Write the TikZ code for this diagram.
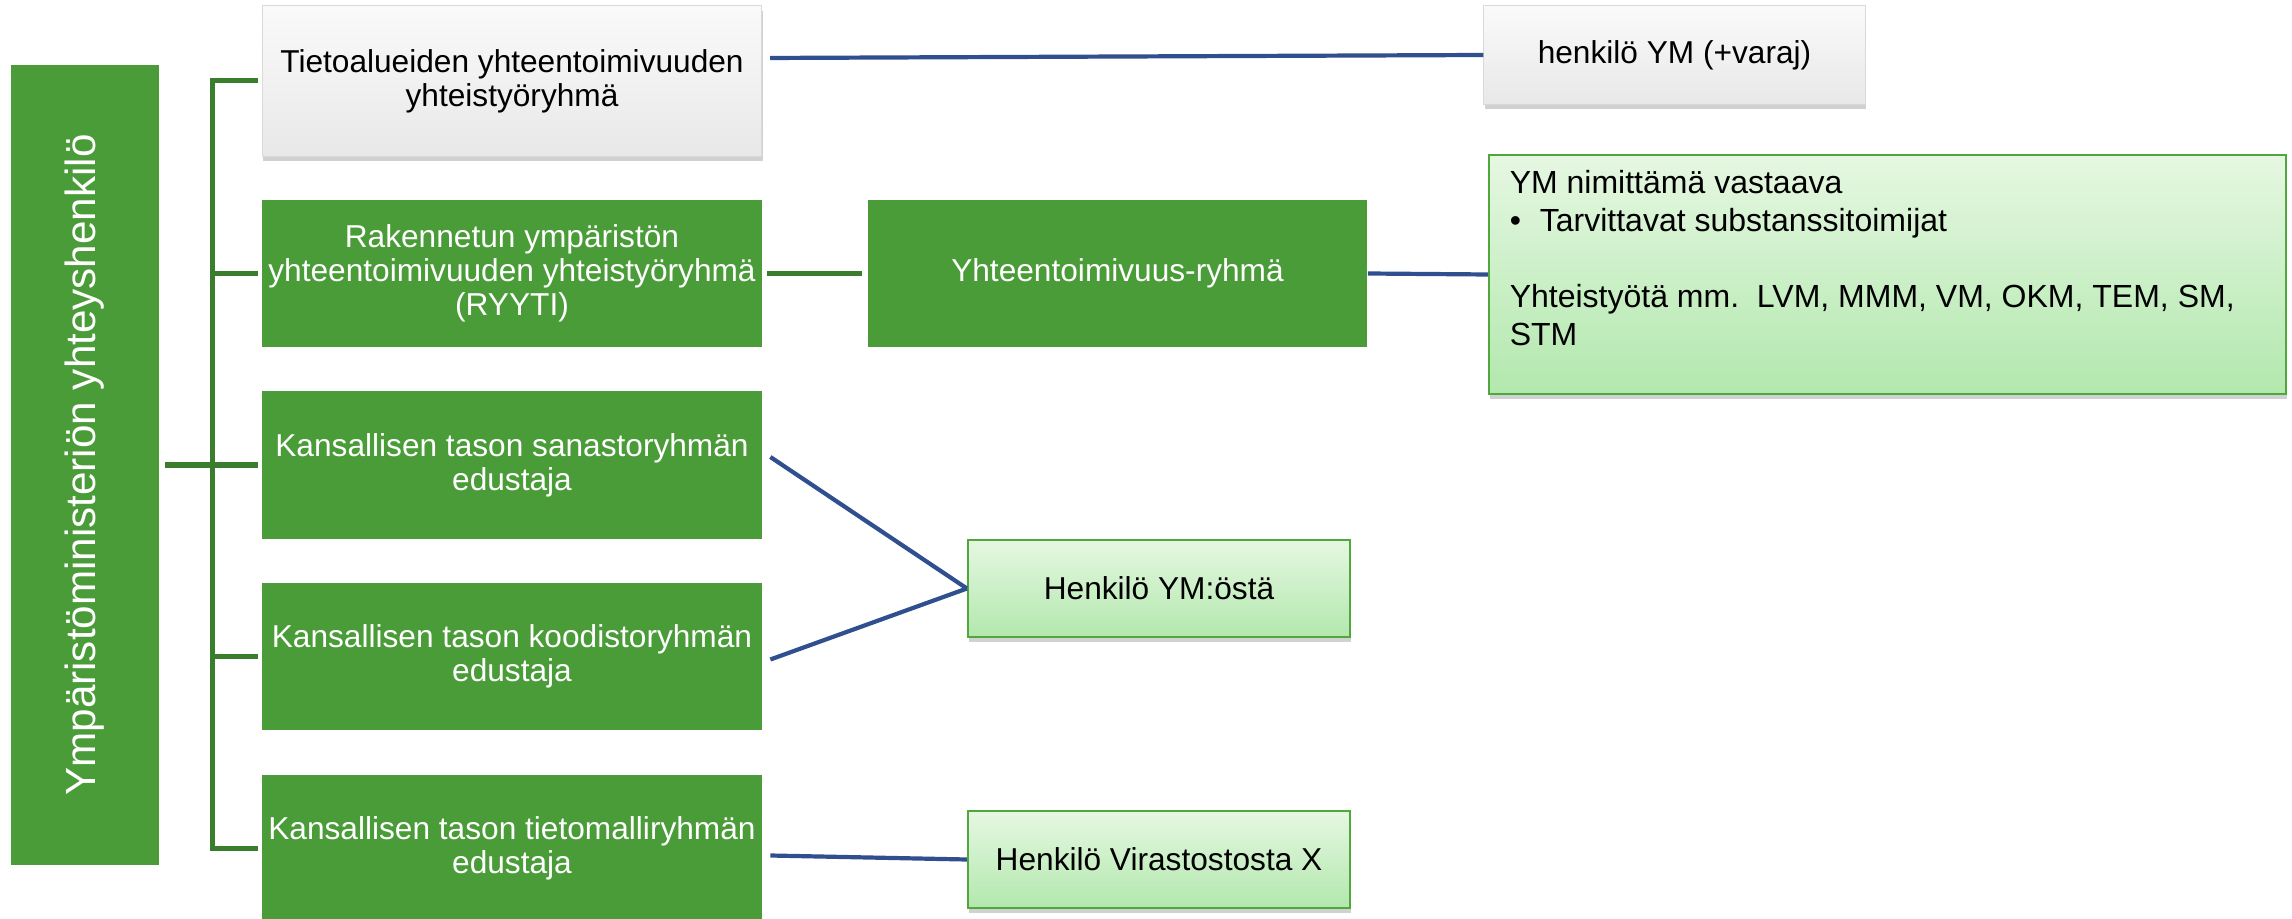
\documentclass[tikz,border=0pt]{standalone}
\usepackage{fontspec}
\setmainfont{Liberation Sans}
\usetikzlibrary{shadows}

\definecolor{boxgreen}{RGB}{74,156,56}
\definecolor{linegreen}{RGB}{58,125,44}
\definecolor{lineblue}{RGB}{47,79,143}
\definecolor{paletop}{RGB}{230,247,226}
\definecolor{palebottom}{RGB}{178,232,173}
\definecolor{paleedge}{RGB}{80,168,60}

\tikzset{
	boxfont/.style={font=\fontsize{9}{9.6}\selectfont},
	greenbox/.style={boxfont, fill=boxgreen, text=white, inner sep=0pt, align=center,
		minimum width=4.99cm, minimum height=1.47cm},
	boxshadow/.style={drop shadow={opacity=0.3, fill=black!60, shadow xshift=0.01cm, shadow yshift=-0.05cm}},
	graybox/.style={boxfont, boxshadow, top color=white!98!black, bottom color=white!91!black,
		draw=black!15, line width=0.01cm, inner sep=0pt, align=center},
	palebox/.style={boxfont, boxshadow, top color=paletop, bottom color=palebottom,
		draw=paleedge, line width=0.02cm, inner sep=0pt, align=center},
	bracket/.style={draw=linegreen, line width=0.05cm},
	blueline/.style={draw=lineblue, line width=0.042cm}
}

\begin{document}
\begin{tikzpicture}[x=0.01cm, y=-0.01cm]
	\useasboundingbox (0,0) rectangle (2292,919);
	
	%ministry contact, text reads upwards
	\node[fill=boxgreen, text=white, font=\fontsize{12}{14}\selectfont, rotate=90, inner sep=0pt,
		minimum width=8cm, minimum height=1.48cm] (ymp) at (85,465) {Ympäristöministeriön yhteyshenkilö};
	
	%left column
	\node[graybox, minimum width=4.99cm, minimum height=1.5cm] (tieto) at (512,81)
		{Tietoalueiden yhteentoimivuuden\\yhteistyöryhmä};
	\node[greenbox] (ryyti) at (512,273.5) {Rakennetun ympäristön\\yhteentoimivuuden yhteistyöryhmä\\(RYYTI)};
	\node[greenbox] (sana) at (512,465) {Kansallisen tason sanastoryhmän\\edustaja};
	\node[greenbox] (koodi) at (512,656.5) {Kansallisen tason koodistoryhmän\\edustaja};
	\node[greenbox] (malli) at (512,848.5) {Kansallisen tason tietomalliryhmän\\edustaja};
	
	%middle and right
	\node[greenbox] (ryhma) at (1117.5,273.5) {Yhteentoimivuus-ryhmä};
	\node[graybox, minimum width=3.81cm, minimum height=0.98cm] (henk) at (1674.5,55) {henkilö YM (+varaj)};
	\node[palebox, minimum width=7.97cm, minimum height=2.39cm, inner xsep=0.21cm, inner ysep=0.15cm] (vast) at (1887.5,274.5)
		{\parbox[c][2.09cm][t]{7.55cm}{\fontsize{9.1}{10.8}\selectfont\raggedright
			YM nimittämä vastaava\\
			\makebox[0.3cm][l]{•}Tarvittavat substanssitoimijat\\[10.8pt]
			Yhteistyötä mm.\ \ LVM, MMM, VM, OKM, TEM, SM,\\
			STM}};
	\node[palebox, minimum width=3.82cm, minimum height=0.97cm] (hym) at (1159,588.5) {Henkilö YM:östä};
	\node[palebox, minimum width=3.82cm, minimum height=0.97cm] (hvx) at (1159,859.5) {Henkilö Virastostosta X};
	
	%green bracket
	\coordinate (bx) at (212,465);
	\draw[bracket, shorten <=0.05cm] (ymp.south) -- (bx);
	\draw[bracket, shorten <=0.04cm, shorten >=0.04cm] (tieto.west) -- (bx |- tieto.west) -- (bx |- malli.west) -- (malli.west);
	\foreach \n in {ryyti, sana, koodi}
		\draw[bracket, shorten >=0.04cm] (bx |- \n.west) -- (\n.west);
	\draw[bracket, shorten <=0.05cm, shorten >=0.05cm] (ryyti.east) -- (ryhma.west);
	
	%blue links
	\draw[blueline] ([xshift=0.08cm, yshift=0.23cm]tieto.east) -- (henk.west);
	\draw[blueline] (ryhma.east) -- (vast.west);
	\draw[blueline] ([xshift=0.08cm, yshift=0.08cm]sana.east) -- (hym.west);
	\draw[blueline] ([xshift=0.08cm, yshift=-0.03cm]koodi.east) -- (hym.west);
	\draw[blueline] ([xshift=0.08cm, yshift=-0.07cm]malli.east) -- (hvx.west);
\end{tikzpicture}
\end{document}
